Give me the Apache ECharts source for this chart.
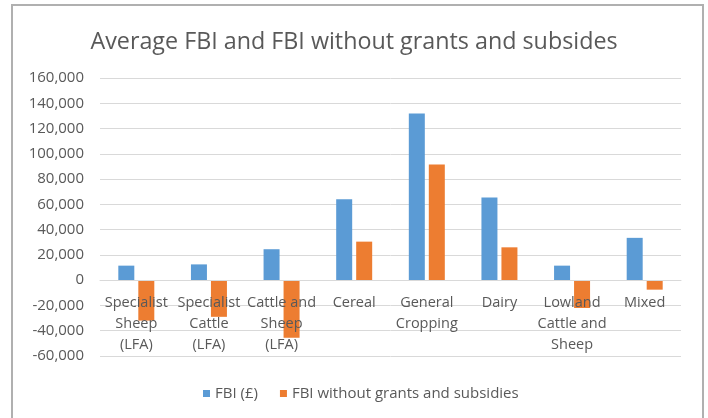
<!DOCTYPE html>
<html><head><meta charset="utf-8">
<script src="https://cdn.jsdelivr.net/npm/echarts@6/dist/echarts.min.js"></script>
<style>html,body{margin:0;padding:0;background:#fff}#c{width:708px;height:418px}</style>
</head><body><div id="c"></div>
<script>
const categories = ['Specialist\nSheep\n(LFA)', 'Specialist\nCattle\n(LFA)', 'Cattle and\nSheep\n(LFA)', 'Cereal', 'General\nCropping', 'Dairy', 'Lowland\nCattle and\nSheep', 'Mixed'];
const fbi = [11500, 12500, 24500, 64000, 132000, 65500, 11500, 33500];
const fbiNoGrants = [-32000, -29000, -45500, 30500, 91500, 26000, -22000, -7500];
const seriesNames = ['FBI (£)', 'FBI without grants and subsidies'];
const titleText = 'Average FBI and FBI without grants and subsides';

const chart = echarts.init(document.getElementById('c'));
const txt = '#595959';
const font = '"Open Sans", "Liberation Sans", sans-serif';
chart.setOption({
  animation: false,
  graphic: [{type: 'rect', shape: {x: 12, y: 5, width: 691, height: 430}, style: {fill: 'none', stroke: '#b0b0b0', lineWidth: 2}, z: -1}],
  title: {text: titleText, left: 'center', top: 26, textStyle: {fontFamily: font, fontWeight: 'normal', fontSize: 23.3, color: txt}},
  legend: {top: 381, left: 198, itemWidth: 7, itemHeight: 7, itemGap: 22, icon: 'rect',
    textStyle: {fontFamily: font, fontSize: 15, color: txt}},
  grid: {left: 100, right: 27, top: 78, bottom: 62, containLabel: false, outerBoundsMode: 'none'},
  xAxis: {type: 'category', data: categories, z: 5, offset: -76,
    axisLine: {show: true, onZero: false, lineStyle: {color: '#d9d9d9'}},
    axisTick: {show: false},
    axisLabel: {interval: 0, margin: 12, lineHeight: 21, color: txt, fontFamily: font, fontSize: 14.5}},
  yAxis: {type: 'value', min: -60000, max: 160000, interval: 20000,
    axisLine: {show: false}, axisTick: {show: false},
    splitLine: {lineStyle: {color: '#d9d9d9'}},
    axisLabel: {margin: 16, color: txt, fontFamily: font, fontSize: 15,
      formatter: v => v.toLocaleString('en-US')}},
  series: [
    {name: seriesNames[0], type: 'bar', data: fbi, itemStyle: {color: '#5b9bd5'}, barWidth: 16, barGap: '25%', barCategoryGap: '50%'},
    {name: seriesNames[1], type: 'bar', data: fbiNoGrants, itemStyle: {color: '#ed7d31'}, barWidth: 16}
  ]
});
</script></body></html>
